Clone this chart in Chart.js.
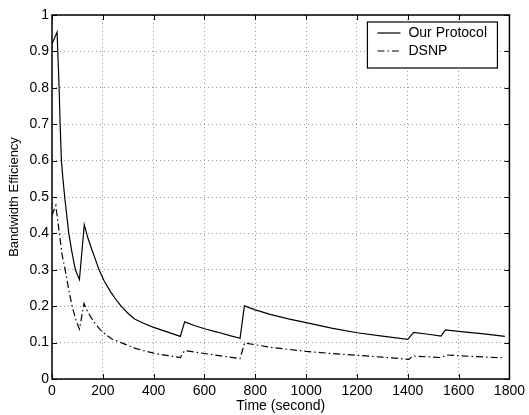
<!DOCTYPE html>
<html>
<head>
<meta charset="utf-8">
<script src="https://cdn.jsdelivr.net/npm/chart.js@4.4.0/dist/chart.umd.min.js"></script>
<style>
  html, body { margin: 0; padding: 0; background: #fff; }
  #wrap { width: 529px; height: 415px; }
</style>
</head>
<body>
<div id="wrap"><canvas id="effChart"></canvas></div>
<script>
// values
const ourTime = [0, 20, 28, 32, 37, 43, 50, 58, 66, 78, 92, 108,
  127, 140, 156, 170, 185, 205, 230, 255, 272, 300, 325, 360, 400, 450, 505,
  522, 560, 600, 650, 700, 740,
  757, 800, 862, 930, 1000, 1100, 1200, 1300, 1400,
  1423, 1480, 1531,
  1548, 1600, 1700, 1782];
const ourEff = [0.92, 0.953, 0.80, 0.70, 0.60, 0.55, 0.50, 0.45, 0.40, 0.35, 0.30, 0.273,
  0.424, 0.39, 0.357, 0.33, 0.30, 0.27, 0.24, 0.215, 0.20, 0.18, 0.165, 0.153, 0.142, 0.13, 0.117,
  0.157, 0.147, 0.138, 0.129, 0.119, 0.112,
  0.201, 0.19, 0.177, 0.165, 0.155, 0.14, 0.127, 0.118, 0.109,
  0.128, 0.123, 0.118,
  0.135, 0.131, 0.124, 0.117];

const dsnpTime = [0, 15, 29, 40, 52, 66, 79, 95, 108,
  126, 140, 155, 169, 190, 215, 240, 260, 272, 300, 325, 360, 400, 450, 505,
  522, 600, 680, 740,
  758, 860, 1000, 1100, 1200, 1300, 1405,
  1418, 1531,
  1553, 1650, 1782];
const dsnpEff = [0.45, 0.477, 0.40, 0.34, 0.30, 0.245, 0.20, 0.16, 0.137,
  0.207, 0.185, 0.168, 0.153, 0.135, 0.12, 0.108, 0.104, 0.10, 0.092, 0.085, 0.078, 0.071, 0.065, 0.059,
  0.078, 0.07, 0.062, 0.056,
  0.099, 0.087, 0.076, 0.07, 0.065, 0.06, 0.054,
  0.063, 0.059,
  0.066, 0.062, 0.058];

const xTicks = [0, 200, 400, 600, 800, 1000, 1200, 1400, 1600, 1800];
const yTicks = [0, 0.1, 0.2, 0.3, 0.4, 0.5, 0.6, 0.7, 0.8, 0.9, 1];

const FONT = "'Liberation Sans', Arial, Helvetica, sans-serif";

function toPoints(xs, ys) {
  return xs.map((x, i) => ({ x: x, y: ys[i] }));
}

// matlab style box with ticks pointing inwards, and the boxed legend
const framePlugin = {
  id: 'frame',
  afterDraw(chart) {
    const ctx = chart.ctx;
    const a = chart.chartArea;
    const xs = chart.scales.x, ys = chart.scales.y;
    const tl = 5;
    ctx.save();
    ctx.strokeStyle = '#000';
    ctx.lineWidth = 1;
    ctx.beginPath();
    xTicks.forEach(v => {
      const px = Math.round(xs.getPixelForValue(v)) + 0.5;
      ctx.moveTo(px, a.bottom); ctx.lineTo(px, a.bottom - tl);
      ctx.moveTo(px, a.top); ctx.lineTo(px, a.top + tl);
    });
    yTicks.forEach(v => {
      const py = Math.round(ys.getPixelForValue(v)) + 0.5;
      ctx.moveTo(a.left, py); ctx.lineTo(a.left + tl, py);
      ctx.moveTo(a.right, py); ctx.lineTo(a.right - tl, py);
    });
    ctx.stroke();
    ctx.lineWidth = 1.5;
    ctx.strokeRect(a.left, a.top, a.right - a.left, a.bottom - a.top);

    // legend
    const bx = a.right - 142, by = a.top + 7, bw = 130, bh = 46;
    ctx.fillStyle = '#fff';
    ctx.fillRect(bx, by, bw, bh);
    ctx.lineWidth = 1.2;
    ctx.strokeRect(bx, by, bw, bh);
    ctx.font = '14px ' + FONT;
    ctx.textBaseline = 'middle';
    ctx.fillStyle = '#000';
    chart.data.datasets.forEach((ds, i) => {
      const ry = by + 11 + i * 18;
      ctx.beginPath();
      ctx.lineWidth = ds.borderWidth;
      ctx.setLineDash(ds.borderDash || []);
      ctx.moveTo(bx + 10, ry); ctx.lineTo(bx + 33, ry);
      ctx.stroke();
      ctx.setLineDash([]);
      ctx.fillText(ds.label, bx + 41, ry);
    });
    ctx.restore();
  }
};

const ctx = document.getElementById('effChart').getContext('2d');
let chart = new Chart(ctx, {
  type: 'line',
  data: {
    datasets: [{
      label: 'Our Protocol',
      data: toPoints(ourTime, ourEff),
      borderColor: '#000',
      borderWidth: 1.2,
      pointRadius: 0,
      tension: 0,
      fill: false
    }, {
      label: 'DSNP',
      data: toPoints(dsnpTime, dsnpEff),
      borderColor: '#000',
      borderWidth: 1.2,
      borderDash: [7, 3, 1.5, 3],
      pointRadius: 0,
      tension: 0,
      fill: false
    }]
  },
  options: {
    responsive: true,
    maintainAspectRatio: false,
    animation: false,
    layout: { padding: { left: 0, right: 15, top: 15, bottom: 0 } },
    plugins: {
      legend: { display: false },
      tooltip: { enabled: false }
    },
    scales: {
      x: {
        type: 'linear',
        min: 0,
        max: 1800,
        afterBuildTicks: s => { s.ticks = xTicks.map(v => ({ value: v })); },
        afterFit: s => { s.height = 36; },
        ticks: {
          color: '#000', font: { family: FONT, size: 14 }, padding: 4, maxRotation: 0,
          callback: v => String(v)
        },
        grid: { color: '#999', drawTicks: false },
        border: { display: false, dash: [1, 3] },
        title: {
          display: true, text: 'Time (second)', color: '#000',
          font: { family: FONT, size: 14 }, padding: { top: 3, bottom: 0 }
        }
      },
      y: {
        min: 0,
        max: 1,
        afterBuildTicks: s => { s.ticks = yTicks.map(v => ({ value: v })); },
        afterFit: s => { s.width = 52; },
        ticks: {
          color: '#000', font: { family: FONT, size: 14 }, padding: 3,
          callback: v => String(Math.round(v * 10) / 10)
        },
        grid: { color: '#999', drawTicks: false },
        border: { display: false, dash: [1, 3] },
        title: {
          display: true, text: 'Bandwidth Efficiency', color: '#000',
          font: { family: FONT, size: 13 }, padding: { top: 7, bottom: 0 }
        }
      }
    }
  },
  plugins: [framePlugin]
});
</script>
</body>
</html>
